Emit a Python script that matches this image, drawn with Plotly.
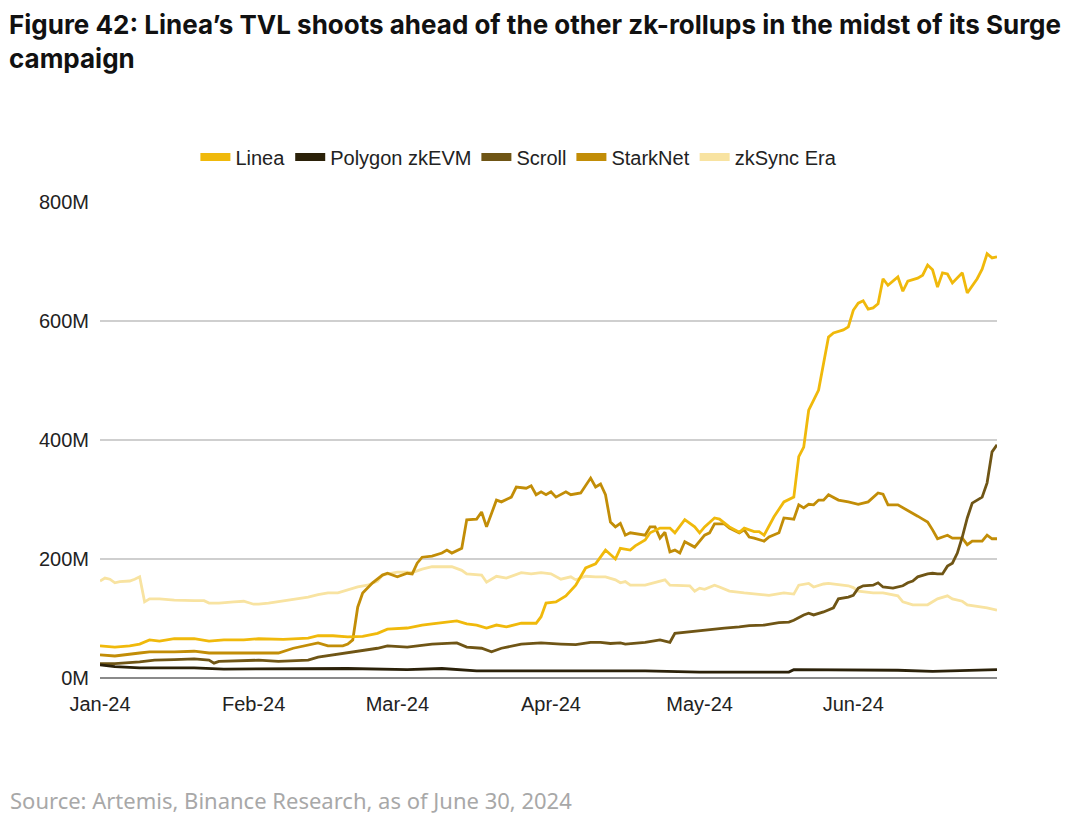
import plotly.graph_objects as go

# ---------------- data (TVL in USD millions) ----------------
linea_dates = ["2024-01-01","2024-01-04","2024-01-07","2024-01-09","2024-01-11","2024-01-13","2024-01-16","2024-01-20","2024-01-23","2024-01-26","2024-01-30",
"2024-02-02","2024-02-07","2024-02-12","2024-02-14","2024-02-17","2024-02-20","2024-02-23","2024-02-26","2024-02-28",
"2024-03-03","2024-03-06","2024-03-08","2024-03-11","2024-03-13","2024-03-15","2024-03-17","2024-03-19","2024-03-21","2024-03-23","2024-03-26","2024-03-29","2024-03-30","2024-03-31",
"2024-04-02","2024-04-04","2024-04-06","2024-04-08","2024-04-10","2024-04-12","2024-04-14","2024-04-15","2024-04-17","2024-04-18","2024-04-20","2024-04-21","2024-04-23","2024-04-25","2024-04-26","2024-04-28","2024-04-30",
"2024-05-01","2024-05-02","2024-05-04","2024-05-05","2024-05-07","2024-05-09","2024-05-10","2024-05-12","2024-05-13","2024-05-14","2024-05-16","2024-05-18","2024-05-20","2024-05-21","2024-05-22","2024-05-23","2024-05-24","2024-05-25","2024-05-27","2024-05-28","2024-05-30","2024-05-31",
"2024-06-01","2024-06-02","2024-06-03","2024-06-04","2024-06-05","2024-06-06","2024-06-07","2024-06-08","2024-06-10","2024-06-11","2024-06-12","2024-06-14","2024-06-15","2024-06-16","2024-06-17","2024-06-18","2024-06-19","2024-06-20","2024-06-21","2024-06-23","2024-06-24","2024-06-26","2024-06-27","2024-06-28","2024-06-29","2024-06-30"]
linea_tvl = [54,52,54,57,64,62,66,66,62,64,64,
66,65,67,71,71,69,70,75,82,
84,89,91,94,96,91,89,84,89,86,92,92,103,126,
128,138,156,185,192,215,200,218,215,222,232,244,252,252,244,266,254,
244,254,269,267,254,245,252,246,246,240,271,296,304,372,388,450,467,484,573,580,585,590,
618,630,634,620,622,629,671,660,674,650,667,672,677,694,686,657,681,679,664,681,647,671,687,713,706,708]

polygon_dates = ["2024-01-01","2024-01-04","2024-01-09","2024-01-20","2024-01-26","2024-02-02","2024-02-20","2024-03-03","2024-03-10","2024-03-17","2024-03-26","2024-04-03","2024-04-20","2024-05-01","2024-05-19","2024-05-20","2024-06-01","2024-06-10","2024-06-17","2024-06-30"]
polygon_tvl = [22,19,17,17,15,15,16,14,16,12,12,11,12,10,10,14,14,13,11,14]

scroll_dates = ["2024-01-01","2024-01-04","2024-01-09","2024-01-12","2024-01-16","2024-01-20","2024-01-23","2024-01-24","2024-01-25","2024-01-30",
"2024-02-02","2024-02-06","2024-02-12","2024-02-14","2024-02-17","2024-02-20","2024-02-23","2024-02-26","2024-02-28",
"2024-03-03","2024-03-08","2024-03-13","2024-03-15","2024-03-18","2024-03-20","2024-03-22","2024-03-26","2024-03-30",
"2024-04-03","2024-04-06","2024-04-09","2024-04-11","2024-04-13","2024-04-15","2024-04-16","2024-04-20","2024-04-23","2024-04-25","2024-04-26","2024-04-28","2024-04-30",
"2024-05-03","2024-05-06","2024-05-09","2024-05-11","2024-05-14","2024-05-17","2024-05-19","2024-05-20","2024-05-22","2024-05-23","2024-05-24","2024-05-26","2024-05-28","2024-05-29","2024-05-31",
"2024-06-01","2024-06-02","2024-06-03","2024-06-05","2024-06-06","2024-06-07","2024-06-09","2024-06-11","2024-06-12","2024-06-13","2024-06-14","2024-06-16","2024-06-17","2024-06-18","2024-06-19","2024-06-20","2024-06-21","2024-06-22","2024-06-23","2024-06-24","2024-06-25","2024-06-27","2024-06-28","2024-06-29","2024-06-30"]
scroll_tvl = [24,24,27,30,31,32,30,25,28,29,
30,28,30,35,39,42,47,50,54,
52,57,59,52,50,44,50,57,59,
57,56,60,60,58,59,57,60,64,60,75,77,79,
81,84,86,88,89,93,94,97,106,109,106,111,118,133,136,
139,151,155,156,160,153,151,155,160,163,170,175,176,175,175,188,193,210,237,269,294,304,328,380,392]

starknet_dates = ["2024-01-01","2024-01-04","2024-01-09","2024-01-11","2024-01-16","2024-01-20","2024-01-23","2024-01-30",
"2024-02-02","2024-02-06","2024-02-09","2024-02-12","2024-02-14","2024-02-16","2024-02-19","2024-02-20","2024-02-21","2024-02-22","2024-02-23","2024-02-25","2024-02-27","2024-02-28",
"2024-03-01","2024-03-03","2024-03-04","2024-03-05","2024-03-06","2024-03-08","2024-03-10","2024-03-11","2024-03-12","2024-03-14","2024-03-15","2024-03-17","2024-03-18","2024-03-19","2024-03-21","2024-03-22","2024-03-24","2024-03-25","2024-03-27","2024-03-28","2024-03-29","2024-03-30","2024-03-31",
"2024-04-01","2024-04-02","2024-04-04","2024-04-05","2024-04-07","2024-04-08","2024-04-09","2024-04-10","2024-04-11","2024-04-12","2024-04-13","2024-04-14","2024-04-15","2024-04-16","2024-04-17","2024-04-20","2024-04-21","2024-04-22","2024-04-23","2024-04-24","2024-04-25","2024-04-26","2024-04-27","2024-04-28","2024-04-30",
"2024-05-02","2024-05-03","2024-05-04","2024-05-06","2024-05-07","2024-05-09","2024-05-10","2024-05-11","2024-05-12","2024-05-14","2024-05-15","2024-05-17","2024-05-18","2024-05-20","2024-05-21","2024-05-22","2024-05-23","2024-05-24","2024-05-25","2024-05-26","2024-05-27","2024-05-28","2024-05-29","2024-05-31",
"2024-06-01","2024-06-02","2024-06-04","2024-06-05","2024-06-06","2024-06-07","2024-06-08","2024-06-10","2024-06-12","2024-06-14","2024-06-15","2024-06-16","2024-06-17","2024-06-18","2024-06-20","2024-06-21","2024-06-23","2024-06-24","2024-06-25","2024-06-27","2024-06-28","2024-06-29","2024-06-30"]
starknet_tvl = [39,37,42,44,44,45,42,42,
42,42,50,55,59,54,54,57,64,119,143,160,173,176,
170,176,175,193,203,205,210,215,210,218,266,267,279,254,299,296,304,321,319,323,308,313,308,
313,304,313,308,311,324,336,321,326,308,262,254,260,240,244,240,254,254,235,245,212,215,210,229,220,
240,244,259,259,252,244,249,237,235,230,237,244,269,267,291,286,292,291,299,299,308,304,299,296,
294,292,296,304,311,309,291,291,282,272,267,262,249,234,240,235,235,224,230,230,240,234,234]

zksync_dates = ["2024-01-01","2024-01-02","2024-01-03","2024-01-04","2024-01-05","2024-01-07","2024-01-08","2024-01-09","2024-01-10","2024-01-11","2024-01-13","2024-01-16","2024-01-20","2024-01-22","2024-01-23","2024-01-25","2024-01-28","2024-01-30",
"2024-02-01","2024-02-02","2024-02-04","2024-02-07","2024-02-10","2024-02-12","2024-02-14","2024-02-16","2024-02-18","2024-02-20","2024-02-22","2024-02-24","2024-02-26","2024-02-27",
"2024-03-01","2024-03-03","2024-03-04","2024-03-06","2024-03-08","2024-03-10","2024-03-12","2024-03-14","2024-03-15","2024-03-18","2024-03-19","2024-03-21","2024-03-23","2024-03-26","2024-03-28","2024-03-30",
"2024-04-01","2024-04-03","2024-04-05","2024-04-06","2024-04-08","2024-04-10","2024-04-12","2024-04-14","2024-04-15","2024-04-16","2024-04-17","2024-04-20","2024-04-22","2024-04-24","2024-04-25","2024-04-27","2024-04-29","2024-04-30",
"2024-05-01","2024-05-02","2024-05-04","2024-05-05","2024-05-07","2024-05-10","2024-05-12","2024-05-15","2024-05-18","2024-05-20","2024-05-21","2024-05-23","2024-05-24","2024-05-26","2024-05-27","2024-05-30","2024-05-31",
"2024-06-01","2024-06-02","2024-06-05","2024-06-07","2024-06-10","2024-06-11","2024-06-13","2024-06-16","2024-06-18","2024-06-20","2024-06-21","2024-06-23","2024-06-24","2024-06-26","2024-06-28","2024-06-30"]
zksync_tvl = [163,168,166,160,162,163,166,170,128,133,133,131,130,130,126,126,128,129,
124,124,126,130,133,136,140,143,143,148,153,156,163,173,
178,178,177,183,187,187,187,181,175,173,161,171,168,177,175,177,
175,166,170,165,171,170,170,165,160,162,156,156,160,165,156,156,155,146,
151,149,156,153,146,143,141,139,143,141,156,159,153,158,159,156,155,
152,146,143,143,138,128,123,123,133,138,133,129,123,121,118,114]

series_names = ["Linea", "Polygon zkEVM", "Scroll", "StarkNet", "zkSync Era"]
series_colors = ["#F0B90B", "#2B2109", "#6F5515", "#C28D07", "#F8E3A1"]
y_tick_vals = [0, 200, 400, 600, 800]
y_tick_text = ["0M", "200M", "400M", "600M", "800M"]
x_tick_vals = ["2024-01-01", "2024-02-01", "2024-03-01", "2024-04-01", "2024-05-01", "2024-06-01"]
x_tick_text = ["Jan-24", "Feb-24", "Mar-24", "Apr-24", "May-24", "Jun-24"]
title_line1 = "Figure 42: Linea’s TVL shoots ahead of the other zk-rollups in the midst of its Surge"
title_line2 = "campaign"
source_text = "Source: Artemis, Binance Research, as of June 30, 2024"

all_dates = [linea_dates, polygon_dates, scroll_dates, starknet_dates, zksync_dates]
all_vals = [linea_tvl, polygon_tvl, scroll_tvl, starknet_tvl, zksync_tvl]

fig = go.Figure()
draw_order = [4, 3, 2, 1, 0]
for i in draw_order:
    fig.add_trace(go.Scatter(
        x=all_dates[i], y=all_vals[i], mode="lines", name=series_names[i],
        line=dict(color=series_colors[i], width=2.8), showlegend=False,
        legendgroup=series_names[i],
    ))
# legend entries (thick short swatches)
for i in range(5):
    fig.add_trace(go.Scatter(
        x=[None], y=[None], mode="lines", name=series_names[i],
        line=dict(color=series_colors[i], width=8), legendgroup=series_names[i],
        showlegend=True,
    ))

title_font = dict(family="Inter, Roboto, sans-serif", size=26, color="#111111", weight="bold")
fig.update_layout(
    width=1072, height=810,
    margin=dict(l=92, r=83, t=194, b=140),
    paper_bgcolor="white", plot_bgcolor="white",
    font=dict(family="Liberation Sans, Arial, sans-serif", size=20, color="#222222"),
    legend=dict(
        orientation="h", x=0.467, xanchor="center", y=1.0945, yanchor="middle",
        font=dict(size=20, color="#222222"), itemwidth=30, bgcolor="rgba(0,0,0,0)",
        traceorder="normal",
    ),
    showlegend=True,
    annotations=[
        dict(text=title_line1, xref="paper", yref="paper", x=-0.1026, y=1.4076,
             xanchor="left", yanchor="top", showarrow=False, borderpad=0, font=title_font),
        dict(text=title_line2, xref="paper", yref="paper", x=-0.1026, y=1.301,
             xanchor="left", yanchor="middle", showarrow=False, borderpad=0, font=title_font),
        dict(text=source_text, xref="paper", yref="paper", x=-0.1026, y=-0.256,
             xanchor="left", yanchor="middle", showarrow=False,
             font=dict(family="Noto Sans, Open Sans, sans-serif", size=22, color="#A8A8A8")),
    ],
)
fig.update_xaxes(
    type="date", range=["2024-01-01", "2024-06-30"],
    tickvals=x_tick_vals, ticktext=x_tick_text, showgrid=False,
    showline=False, ticks="", ticklabelstandoff=12, tickfont=dict(size=20, color="#222222"),
)
fig.update_yaxes(
    range=[0, 800], tickvals=y_tick_vals, ticktext=y_tick_text,
    showgrid=True, gridcolor="#CFCFCF", gridwidth=1.5,
    zeroline=True, zerolinecolor="#8A8A8A", zerolinewidth=2,
    ticks="", ticklabelstandoff=10, tickfont=dict(size=20, color="#222222"),
)

fig.write_html("out.html")
